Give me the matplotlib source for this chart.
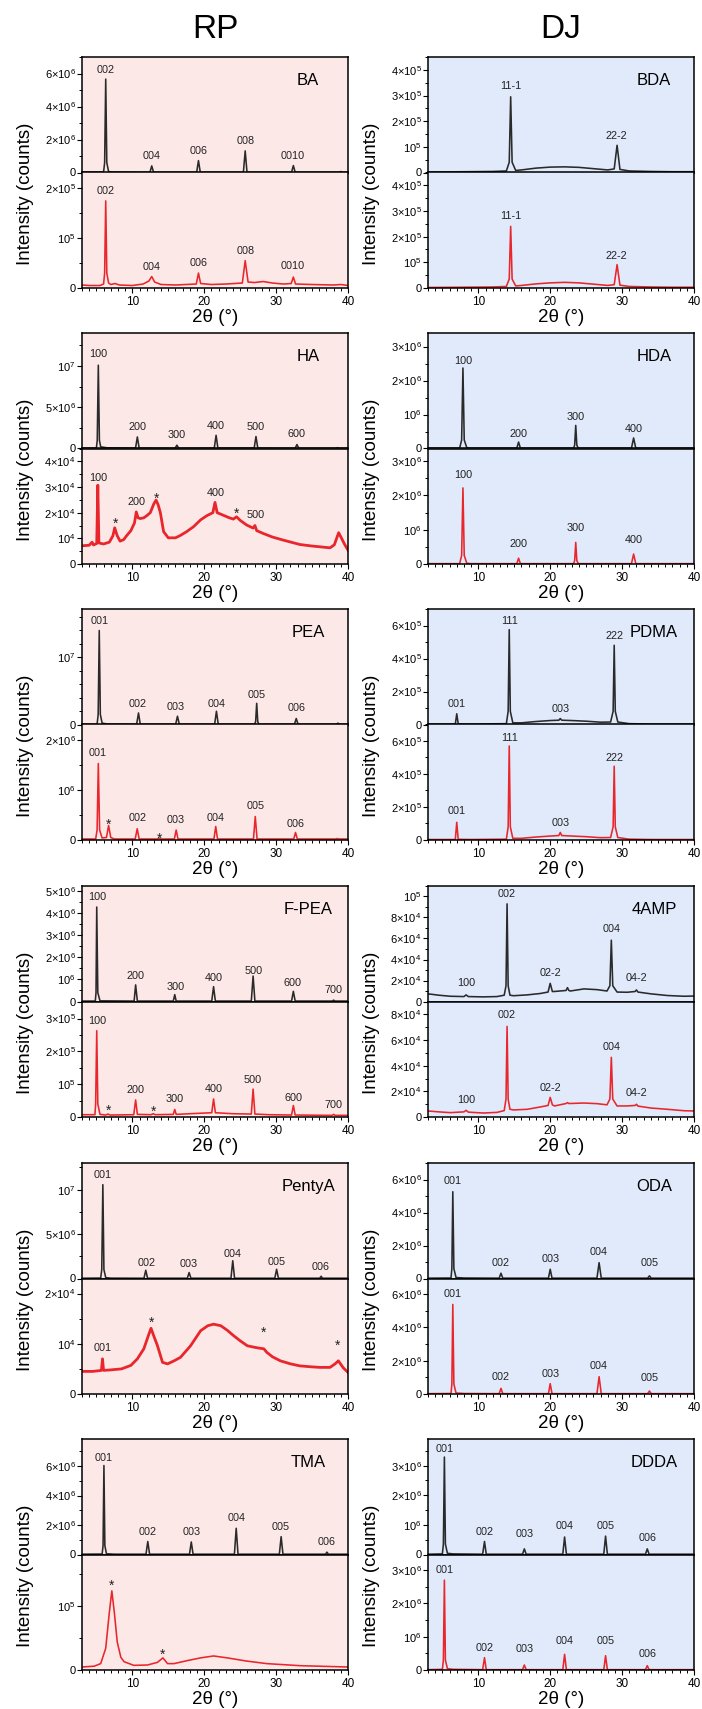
import matplotlib
matplotlib.use("Agg")
import matplotlib.pyplot as plt
from matplotlib.ticker import MultipleLocator

plt.rcParams['font.family'] = ['Liberation Sans', 'DejaVu Sans']
plt.rcParams['mathtext.default'] = 'regular'

# ---------------- y tick sets (value in the axis unit, label) ----------------
T_E6_0246 = ([0, 2, 4, 6], ['0', '2×$10^{6}$', '4×$10^{6}$', '6×$10^{6}$'])
T_E6_0123 = ([0, 1, 2, 3], ['0', '$10^{6}$', '2×$10^{6}$', '3×$10^{6}$'])
T_E6_012 = ([0, 1, 2], ['0', '$10^{6}$', '2×$10^{6}$'])
T_E6_0_5_10 = ([0, 5, 10], ['0', '5×$10^{6}$', '$10^{7}$'])
T_E6_0_10 = ([0, 10], ['0', '$10^{7}$'])
T_E6_012345 = ([0, 1, 2, 3, 4, 5], ['0', '$10^{6}$', '2×$10^{6}$', '3×$10^{6}$', '4×$10^{6}$', '5×$10^{6}$'])
T_E5_01 = ([0, 1], ['0', '$10^{5}$'])
T_E5_012 = ([0, 1, 2], ['0', '$10^{5}$', '2×$10^{5}$'])
T_E5_0123 = ([0, 1, 2, 3], ['0', '$10^{5}$', '2×$10^{5}$', '3×$10^{5}$'])
T_E5_01234 = ([0, 1, 2, 3, 4], ['0', '$10^{5}$', '2×$10^{5}$', '3×$10^{5}$', '4×$10^{5}$'])
T_E5_0246 = ([0, 2, 4, 6], ['0', '2×$10^{5}$', '4×$10^{5}$', '6×$10^{5}$'])
T_E4_012 = ([0, 1, 2], ['0', '$10^{4}$', '2×$10^{4}$'])
T_E4_01234 = ([0, 1, 2, 3, 4], ['0', '$10^{4}$', '2×$10^{4}$', '3×$10^{4}$', '4×$10^{4}$'])
T_E4_0_10 = ([0, 2, 4, 6, 8, 10], ['0', '2×$10^{4}$', '4×$10^{4}$', '6×$10^{4}$', '8×$10^{4}$', '$10^{5}$'])
T_E4_02468 = ([0, 2, 4, 6, 8], ['0', '2×$10^{4}$', '4×$10^{4}$', '6×$10^{4}$', '8×$10^{4}$'])

# ---------------- traced patterns: (2theta, intensity in axis unit) ----------------
# BA  (top 1e6, bottom 1e5)
BA_TOP = [(3, 0.03), (6.0, 0.03), (6.15, 0.6), (6.3, 5.66), (6.45, 0.6), (6.7, 0.05), (7.5, 0.03),
          (12.45, 0.02), (12.7, 0.4), (12.95, 0.02), (18.95, 0.02), (19.2, 0.72), (19.45, 0.02),
          (25.45, 0.02), (25.7, 1.31), (25.95, 0.02), (32.15, 0.02), (32.4, 0.42), (32.65, 0.02),
          (38.8, 0.02), (39.0, 0.06), (39.2, 0.02), (40, 0.02)]
BA_TOP_PK = [('002', 6.3, 6.24), ('004', 12.7, 0.99), ('006', 19.2, 1.31), ('008', 25.7, 1.9), ('0010', 32.3, 0.99)]
BA_BOT = [(3, 0.06), (4, 0.05), (5.5, 0.05), (6.0, 0.08), (6.15, 0.3), (6.3, 1.75), (6.45, 0.3), (6.7, 0.1),
          (7.0, 0.07), (7.6, 0.09), (8.2, 0.06), (10, 0.05), (11.5, 0.08), (12.3, 0.14), (12.7, 0.23),
          (13.1, 0.12), (14, 0.07), (16, 0.06), (18.9, 0.08), (19.2, 0.3), (19.5, 0.09), (21, 0.07),
          (23, 0.08), (25.3, 0.1), (25.7, 0.55), (26.1, 0.12), (27, 0.11), (28.2, 0.13), (29.5, 0.1),
          (31, 0.08), (32.1, 0.09), (32.4, 0.22), (32.7, 0.08), (35, 0.07), (38, 0.06), (39, 0.07), (40, 0.05)]
BA_BOT_PK = [('002', 6.3, 1.95), ('004', 12.7, 0.43), ('006', 19.2, 0.5), ('008', 25.7, 0.75), ('0010', 32.3, 0.45)]

# BDA (1e5 / 1e5)
BDA_TOP = [(3, 0.02), (8, 0.03), (12, 0.04), (13.9, 0.06), (14.3, 0.4), (14.5, 2.95), (14.7, 0.4), (15.2, 0.08),
           (16, 0.1), (18, 0.17), (20, 0.21), (22, 0.22), (24, 0.2), (26, 0.15), (28, 0.1), (28.9, 0.14),
           (29.3, 1.06), (29.7, 0.12), (31, 0.06), (34, 0.04), (37, 0.03), (40, 0.03)]
BDA_TOP_PK = [('11-1', 14.5, 3.36), ('22-2', 29.2, 1.42)]
BDA_BOT = [(3, 0.02), (8, 0.03), (12, 0.04), (13.9, 0.06), (14.3, 0.35), (14.5, 2.4), (14.7, 0.35), (15.2, 0.08),
           (16, 0.1), (18, 0.16), (20, 0.2), (22, 0.22), (24, 0.2), (26, 0.15), (28, 0.1), (28.9, 0.13),
           (29.3, 0.91), (29.7, 0.11), (31, 0.06), (34, 0.04), (37, 0.03), (40, 0.03)]
BDA_BOT_PK = [('11-1', 14.5, 2.82), ('22-2', 29.2, 1.26)]

# HA (1e6 / 1e4)
HA_TOP = [(3, 0.05), (5.0, 0.05), (5.12, 1.0), (5.27, 10.1), (5.42, 1.0), (5.6, 0.2), (6.5, 0.08),
          (10.45, 0.05), (10.7, 1.4), (10.95, 0.05), (15.95, 0.03), (16.2, 0.4), (16.45, 0.03),
          (21.4, 0.05), (21.65, 1.6), (21.9, 0.05), (26.95, 0.05), (27.2, 1.45), (27.45, 0.05),
          (32.65, 0.03), (32.9, 0.48), (33.15, 0.03), (38.35, 0.03), (38.55, 0.1), (38.75, 0.03), (40, 0.03)]
HA_TOP_PK = [('100', 5.3, 11.4), ('200', 10.7, 2.62), ('300', 16.2, 1.61), ('400', 21.65, 2.74),
             ('500', 27.2, 2.62), ('600', 32.9, 1.73)]
HA_BOT = [(3, 0.71), (4.0, 0.73), (4.4, 0.85), (4.6, 0.74), (5.05, 0.8), (5.2, 3.07), (5.35, 0.82), (6.0, 0.78),
          (6.8, 0.85), (7.3, 1.1), (7.55, 1.41), (7.9, 1.1), (8.3, 0.89), (8.8, 0.95), (9.2, 1.1), (9.8, 1.3),
          (10.3, 1.6), (10.55, 2.03), (10.8, 1.8), (11.1, 1.77), (11.6, 1.8), (12.0, 1.88), (12.5, 2.0),
          (13.0, 2.35), (13.3, 2.49), (13.6, 2.3), (13.9, 2.0), (14.35, 1.26), (15.0, 1.02), (16.0, 1.02),
          (16.6, 1.1), (17.5, 1.25), (18.5, 1.45), (19.5, 1.72), (20.35, 1.88), (21.2, 2.0), (21.5, 2.4),
          (21.8, 2.0), (22.65, 1.9), (23.5, 1.8), (24.05, 1.75), (24.5, 1.84), (25.0, 1.7), (25.9, 1.52),
          (26.8, 1.4), (27.05, 1.5), (27.3, 1.3), (28.2, 1.19), (29.5, 1.05), (31, 0.93), (33.3, 0.76),
          (35, 0.7), (36.1, 0.67), (37.5, 0.63), (38.1, 0.75), (38.7, 1.22), (39.2, 0.95), (39.5, 0.78), (40, 0.54)]
HA_BOT_PK = [('100', 5.3, 3.37), ('*', 7.6, 1.71), ('200', 10.55, 2.42), ('*', 13.3, 2.71),
             ('400', 21.6, 2.78), ('*', 24.5, 2.12), ('500', 27.2, 1.89)]

# HDA (1e6 / 1e6)
HDA_TOP = [(3, 0.01), (7.4, 0.01), (7.68, 0.25), (7.86, 2.37), (8.04, 0.25), (8.4, 0.02), (9, 0.01),
           (15.35, 0.01), (15.6, 0.19), (15.85, 0.01), (23.25, 0.01), (23.4, 0.1), (23.55, 0.68), (23.7, 0.1),
           (23.9, 0.01), (31.3, 0.01), (31.6, 0.31), (31.9, 0.01), (40, 0.01)]
HDA_TOP_PK = [('100', 7.86, 2.57), ('200', 15.6, 0.44), ('300', 23.55, 0.92), ('400', 31.6, 0.57)]
HDA_BOT = [(3, 0.01), (7.4, 0.01), (7.68, 0.25), (7.86, 2.22), (8.04, 0.25), (8.4, 0.02), (9, 0.01),
           (15.35, 0.01), (15.6, 0.17), (15.85, 0.01), (23.25, 0.01), (23.4, 0.1), (23.55, 0.63), (23.7, 0.1),
           (23.9, 0.01), (31.3, 0.01), (31.6, 0.29), (31.9, 0.01), (40, 0.01)]
HDA_BOT_PK = [('100', 7.86, 2.59), ('200', 15.6, 0.58), ('300', 23.55, 1.06), ('400', 31.6, 0.71)]

# PEA (1e6 / 1e6)
PEA_TOP = [(3, 0.05), (5.1, 0.05), (5.25, 1.5), (5.4, 14.0), (5.55, 1.5), (5.8, 0.2), (6.5, 0.08),
           (10.6, 0.05), (10.86, 1.72), (11.1, 0.05), (16.03, 0.05), (16.28, 1.23), (16.53, 0.05),
           (21.45, 0.05), (21.7, 1.97), (21.95, 0.05), (27.0, 0.05), (27.15, 0.4), (27.3, 3.15), (27.45, 0.4),
           (27.6, 0.05), (32.55, 0.05), (32.8, 0.89), (33.05, 0.05), (38.4, 0.05), (38.6, 0.2), (38.8, 0.05), (40, 0.05)]
PEA_TOP_PK = [('001', 5.4, 15.4), ('002', 10.8, 3.0), ('003', 16.1, 2.6), ('004', 21.7, 3.0),
              ('005', 27.3, 4.33), ('006', 32.8, 2.51)]
PEA_BOT = [(3, 0.02), (4.9, 0.02), (5.1, 0.2), (5.27, 1.53), (5.45, 0.2), (5.8, 0.04), (6.4, 0.05), (6.7, 0.29),
           (7.0, 0.05), (7.5, 0.02), (10.4, 0.02), (10.68, 0.225), (10.95, 0.02), (13.5, 0.02), (13.7, 0.04),
           (13.9, 0.02), (15.85, 0.02), (16.1, 0.2), (16.35, 0.02), (21.35, 0.02), (21.6, 0.27), (21.85, 0.02),
           (26.85, 0.02), (27.1, 0.47), (27.35, 0.02), (32.45, 0.02), (32.7, 0.15), (32.95, 0.02),
           (38.3, 0.02), (38.5, 0.03), (38.7, 0.02), (40, 0.02)]
PEA_BOT_PK = [('001', 5.2, 1.735), ('*', 6.75, 0.39), ('002', 10.8, 0.44), ('*', 13.75, 0.11),
              ('003', 16.1, 0.4), ('004', 21.6, 0.44), ('005', 27.2, 0.67), ('006', 32.7, 0.32)]

# PDMA (1e5 / 1e5)
PDMA_TOP = [(3, 0.03), (6.8, 0.03), (7.0, 0.65), (7.2, 0.04), (9, 0.03), (13.9, 0.05), (14.15, 0.8), (14.3, 5.75),
            (14.45, 0.8), (14.8, 0.1), (16, 0.1), (18, 0.18), (20, 0.24), (21.2, 0.26), (21.4, 0.36), (21.6, 0.26),
            (23, 0.24), (25, 0.2), (27, 0.14), (28.4, 0.15), (28.75, 0.8), (28.9, 4.8), (29.05, 0.8), (29.4, 0.15),
            (31, 0.05), (34, 0.03), (37, 0.03), (40, 0.03)]
PDMA_TOP_PK = [('001', 7.0, 1.27), ('111', 14.3, 6.26), ('003', 21.4, 0.91), ('222', 28.9, 5.35)]
PDMA_BOT = [(3, 0.03), (6.8, 0.03), (7.0, 1.07), (7.2, 0.04), (9, 0.03), (13.9, 0.05), (14.15, 0.8), (14.3, 5.7),
            (14.45, 0.8), (14.8, 0.1), (16, 0.1), (18, 0.18), (20, 0.24), (21.2, 0.27), (21.4, 0.46), (21.6, 0.27),
            (23, 0.24), (25, 0.2), (27, 0.14), (28.4, 0.15), (28.75, 0.8), (28.9, 4.47), (29.05, 0.8), (29.4, 0.15),
            (31, 0.05), (34, 0.03), (37, 0.03), (40, 0.03)]
PDMA_BOT_PK = [('001', 7.0, 1.75), ('111', 14.3, 6.18), ('003', 21.4, 1.0), ('222', 28.9, 4.99)]

# F-PEA (1e6 / 1e5)
FPEA_TOP = [(3, 0.02), (4.85, 0.02), (4.95, 0.4), (5.05, 4.27), (5.2, 0.4), (5.5, 0.03), (10.25, 0.02),
            (10.46, 0.75), (10.7, 0.02), (15.7, 0.02), (15.9, 0.31), (16.1, 0.02), (21.05, 0.02), (21.3, 0.67),
            (21.55, 0.02), (26.55, 0.02), (26.8, 1.15), (27.05, 0.02), (32.15, 0.02), (32.4, 0.46), (32.65, 0.02),
            (37.8, 0.02), (38.0, 0.06), (38.2, 0.02), (40, 0.02)]
FPEA_TOP_PK = [('100', 5.15, 4.72), ('200', 10.46, 1.16), ('300', 16.0, 0.67), ('400', 21.3, 1.04),
               ('500', 26.9, 1.37), ('600', 32.3, 0.82), ('700', 38.0, 0.52)]
FPEA_BOT = [(3, 0.07), (4.8, 0.07), (4.9, 0.4), (5.05, 2.63), (5.2, 0.4), (5.5, 0.08), (6.3, 0.06), (6.6, 0.09),
            (6.9, 0.06), (10.2, 0.07), (10.46, 0.52), (10.7, 0.08), (12.6, 0.07), (12.9, 0.1), (13.2, 0.07),
            (15.7, 0.08), (15.9, 0.23), (16.1, 0.08), (18, 0.1), (20, 0.12), (21.05, 0.13), (21.3, 0.55),
            (21.55, 0.13), (24, 0.1), (26.55, 0.09), (26.8, 0.85), (27.05, 0.09), (29, 0.07), (32.15, 0.06),
            (32.4, 0.35), (32.65, 0.06), (37.8, 0.05), (38.0, 0.08), (38.2, 0.05), (40, 0.05)]
FPEA_BOT_PK = [('100', 5.05, 2.94), ('*', 6.65, 0.32), ('200', 10.46, 0.81), ('*', 12.9, 0.29),
               ('300', 15.9, 0.54), ('400', 21.3, 0.84), ('500', 26.8, 1.13), ('600', 32.4, 0.59), ('700', 38.0, 0.36)]

# 4AMP (1e4 / 1e4)
AMP_TOP = [(3, 0.73), (4.5, 0.6), (6.1, 0.5), (8.0, 0.47), (8.3, 0.63), (8.6, 0.47), (10.7, 0.44), (12.6, 0.47),
           (13.6, 0.6), (13.85, 1.5), (14.0, 9.3), (14.15, 1.5), (14.4, 0.6), (14.9, 0.55), (16.8, 0.63),
           (18.6, 0.76), (19.7, 0.9), (20.0, 1.73), (20.3, 0.95), (20.5, 0.95), (22.2, 1.05), (22.4, 1.32),
           (22.6, 1.05), (22.8, 1.0), (24.7, 1.2), (26.5, 1.13), (27.9, 1.0), (28.3, 1.5), (28.5, 5.84),
           (28.7, 1.5), (29.3, 0.9), (30.7, 0.88), (31.8, 0.95), (32.0, 1.1), (32.2, 0.9), (34, 0.73),
           (36.3, 0.57), (38.6, 0.5), (40, 0.52)]
AMP_TOP_PK = [('100', 8.3, 1.73), ('002', 14.0, 10.25), ('02-2', 20.0, 2.68), ('004', 28.5, 6.88), ('04-2', 32.0, 2.27)]
AMP_BOT = [(3, 0.47), (4.5, 0.4), (6.1, 0.34), (8.0, 0.4), (8.3, 0.52), (8.6, 0.38), (10.7, 0.31), (12.6, 0.36),
           (13.6, 0.5), (13.85, 1.4), (14.0, 7.06), (14.15, 1.4), (14.4, 0.6), (14.9, 0.55), (16.8, 0.6),
           (18.6, 0.78), (19.7, 0.9), (20.0, 1.53), (20.3, 0.95), (20.6, 0.86), (22.2, 1.05), (22.4, 1.12),
           (22.6, 1.05), (24.7, 1.09), (26.5, 1.04), (27.9, 0.95), (28.3, 1.4), (28.5, 4.65), (28.7, 1.4),
           (29.3, 0.86), (30.7, 0.86), (31.8, 0.9), (32.0, 0.99), (32.2, 0.85), (34, 0.7), (36.3, 0.6),
           (38.6, 0.49), (40, 0.47)]
AMP_BOT_PK = [('100', 8.3, 1.35), ('002', 14.0, 7.92), ('02-2', 20.0, 2.26), ('004', 28.5, 5.45), ('04-2', 32.0, 1.87)]

# PentyA (1e6 / 1e4)
PENTYA_TOP = [(3, 0.03), (5.6, 0.05), (5.75, 1.0), (5.9, 10.56), (6.05, 1.0), (6.3, 0.1), (7, 0.04),
              (11.62, 0.03), (11.87, 0.93), (12.12, 0.03), (17.65, 0.03), (17.9, 0.67), (18.15, 0.03),
              (23.72, 0.03), (23.97, 2.0), (24.22, 0.03), (29.82, 0.03), (30.07, 1.04), (30.32, 0.03),
              (36.06, 0.03), (36.26, 0.25), (36.46, 0.03), (40, 0.03)]
PENTYA_TOP_PK = [('001', 5.9, 11.68), ('002', 11.95, 1.79), ('003', 17.9, 1.68), ('004', 23.97, 2.8),
                 ('005', 30.1, 1.9), ('006', 36.26, 1.34)]
PENTYA_BOT = [(3, 0.45), (4.5, 0.45), (5.7, 0.47), (5.85, 0.7), (6.0, 0.47), (7, 0.48), (8.5, 0.5), (9.8, 0.57),
              (10.7, 0.7), (11.6, 0.9), (12.2, 1.15), (12.6, 1.31), (13.0, 1.15), (13.5, 0.96), (14.2, 0.63),
              (14.9, 0.6), (15.8, 0.66), (16.7, 0.73), (18.1, 0.96), (19.5, 1.26), (20.5, 1.36), (21.3, 1.39),
              (22.3, 1.36), (23.2, 1.27), (24.1, 1.16), (25, 1.06), (26, 0.96), (27, 0.93), (27.8, 0.91),
              (28.3, 0.9), (28.7, 0.83), (29.5, 0.74), (30.6, 0.66), (32, 0.6), (33.3, 0.56), (35, 0.54),
              (36.1, 0.53), (37.5, 0.53), (38.2, 0.6), (38.66, 0.66), (39.35, 0.52), (40, 0.43)]
PENTYA_BOT_PK = [('001', 5.9, 0.914), ('*', 12.6, 1.5), ('*', 28.2, 1.31), ('*', 38.6, 1.05)]

# ODA (1e6 / 1e6)
ODA_TOP = [(3, 0.02), (6.2, 0.03), (6.32, 0.6), (6.45, 5.26), (6.6, 0.6), (6.9, 0.06), (8, 0.03),
           (12.9, 0.02), (13.15, 0.32), (13.4, 0.02), (19.75, 0.02), (20.0, 0.56), (20.25, 0.02),
           (26.5, 0.02), (26.8, 0.96), (27.1, 0.02), (33.55, 0.02), (33.8, 0.16), (34.05, 0.02), (40, 0.02)]
ODA_TOP_PK = [('001', 6.45, 5.9), ('002', 13.15, 0.96), ('003', 20.0, 1.16), ('004', 26.8, 1.6), ('005', 33.8, 0.92)]
ODA_BOT = [(3, 0.02), (6.2, 0.03), (6.32, 0.6), (6.45, 5.38), (6.6, 0.6), (6.9, 0.06), (8, 0.03),
           (12.9, 0.02), (13.15, 0.34), (13.4, 0.02), (19.75, 0.02), (20.0, 0.62), (20.25, 0.02),
           (26.5, 0.02), (26.8, 1.04), (27.1, 0.02), (33.55, 0.02), (33.8, 0.18), (34.05, 0.02), (40, 0.02)]
ODA_BOT_PK = [('001', 6.45, 6.0), ('002', 13.15, 1.02), ('003', 20.0, 1.22), ('004', 26.8, 1.68), ('005', 33.8, 0.98)]

# TMA (1e6 / 1e5)
TMA_TOP = [(3, 0.02), (5.8, 0.03), (5.93, 0.6), (6.05, 6.04), (6.18, 0.6), (6.4, 0.05), (7.5, 0.02),
           (11.9, 0.02), (12.15, 0.88), (12.4, 0.02), (17.95, 0.02), (18.2, 0.85), (18.45, 0.02),
           (24.2, 0.02), (24.45, 1.78), (24.7, 0.02), (30.45, 0.02), (30.7, 1.21), (30.95, 0.02),
           (36.87, 0.02), (37.07, 0.16), (37.27, 0.02), (40, 0.02)]
TMA_TOP_PK = [('001', 6.05, 6.56), ('002', 12.15, 1.5), ('003', 18.2, 1.5), ('004', 24.45, 2.45),
              ('005', 30.7, 1.84), ('006', 37.07, 0.88)]
TMA_BOT = [(3, 0.047), (4.7, 0.06), (5.6, 0.10), (6.3, 0.34), (6.8, 0.9), (7.15, 1.24), (7.5, 0.9), (7.9, 0.44),
           (8.4, 0.2), (8.85, 0.13), (10.2, 0.073), (12.1, 0.078), (13.5, 0.12), (14.25, 0.19), (14.9, 0.1),
           (15.8, 0.1), (17.6, 0.146), (19.5, 0.19), (21.3, 0.22), (23.2, 0.19), (25.9, 0.14), (28.7, 0.10),
           (33.3, 0.068), (40, 0.047)]
TMA_BOT_PK = [('*', 7.15, 1.38), ('*', 14.25, 0.3)]

# DDDA (1e6 / 1e6)
DDDA_TOP = [(3, 0.01), (5.0, 0.02), (5.14, 0.35), (5.28, 3.29), (5.42, 0.35), (5.7, 0.04), (6.5, 0.02),
            (10.6, 0.01), (10.86, 0.44), (11.1, 0.01), (16.15, 0.01), (16.4, 0.19), (16.65, 0.01),
            (21.75, 0.01), (22.0, 0.59), (22.25, 0.01), (27.45, 0.01), (27.7, 0.62), (27.95, 0.01),
            (33.25, 0.01), (33.5, 0.19), (33.75, 0.01), (40, 0.01)]
DDDA_TOP_PK = [('001', 5.28, 3.55), ('002', 10.86, 0.77), ('003', 16.4, 0.69), ('004', 22.0, 0.97),
               ('005', 27.7, 0.97), ('006', 33.5, 0.56)]
DDDA_BOT = [(3, 0.01), (5.0, 0.02), (5.14, 0.3), (5.28, 2.7), (5.42, 0.3), (5.7, 0.04), (6.5, 0.02),
            (10.6, 0.01), (10.86, 0.37), (11.1, 0.01), (16.15, 0.01), (16.4, 0.15), (16.65, 0.01),
            (21.75, 0.01), (22.0, 0.47), (22.25, 0.01), (27.45, 0.01), (27.7, 0.43), (27.95, 0.01),
            (33.25, 0.01), (33.5, 0.13), (33.75, 0.01), (40, 0.01)]
DDDA_BOT_PK = [('001', 5.28, 2.99), ('002', 10.86, 0.67), ('003', 16.4, 0.62), ('004', 22.0, 0.88),
               ('005', 27.7, 0.86), ('006', 33.5, 0.47)]

# panel table: name, row, col, (curve, labels, ticks, ymax, minor step) for top and bottom
PANELS = [
    ('BA', 0, 0, (BA_TOP, BA_TOP_PK, T_E6_0246, 7.0, 1), (BA_BOT, BA_BOT_PK, T_E5_012, 2.32, 0.5)),
    ('BDA', 0, 1, (BDA_TOP, BDA_TOP_PK, T_E5_01234, 4.5, 0.5), (BDA_BOT, BDA_BOT_PK, T_E5_01234, 4.5, 0.5)),
    ('HA', 1, 0, (HA_TOP, HA_TOP_PK, T_E6_0_5_10, 14.0, 2.5), (HA_BOT, HA_BOT_PK, T_E4_01234, 4.5, 0.5)),
    ('HDA', 1, 1, (HDA_TOP, HDA_TOP_PK, T_E6_0123, 3.4, 0.5), (HDA_BOT, HDA_BOT_PK, T_E6_0123, 3.37, 0.5)),
    ('PEA', 2, 0, (PEA_TOP, PEA_TOP_PK, T_E6_0_10, 17.2, 2), (PEA_BOT, PEA_BOT_PK, T_E6_012, 2.31, 0.5)),
    ('PDMA', 2, 1, (PDMA_TOP, PDMA_TOP_PK, T_E5_0246, 7.0, 1), (PDMA_BOT, PDMA_BOT_PK, T_E5_0246, 7.0, 1)),
    ('F-PEA', 3, 0, (FPEA_TOP, FPEA_TOP_PK, T_E6_012345, 5.22, 0.5), (FPEA_BOT, FPEA_BOT_PK, T_E5_0123, 3.52, 0.5)),
    ('4AMP', 3, 1, (AMP_TOP, AMP_TOP_PK, T_E4_0_10, 11.0, 1), (AMP_BOT, AMP_BOT_PK, T_E4_02468, 9.0, 1)),
    ('PentyA', 4, 0, (PENTYA_TOP, PENTYA_TOP_PK, T_E6_0_5_10, 13.0, 2.5), (PENTYA_BOT, PENTYA_BOT_PK, T_E4_012, 2.3, 0.5)),
    ('ODA', 4, 1, (ODA_TOP, ODA_TOP_PK, T_E6_0246, 7.0, 1), (ODA_BOT, ODA_BOT_PK, T_E6_0246, 6.94, 1)),
    ('TMA', 5, 0, (TMA_TOP, TMA_TOP_PK, T_E6_0246, 7.84, 1), (TMA_BOT, TMA_BOT_PK, T_E5_01, 1.81, 0.5)),
    ('DDDA', 5, 1, (DDDA_TOP, DDDA_TOP_PK, T_E6_0123, 3.9, 0.5), (DDDA_BOT, DDDA_BOT_PK, T_E6_0123, 3.47, 0.5)),
]
NOISY = ['HA', 'PentyA']

# layout (pixels)
W, H = 702, 1709
ROW_TOP = [57, 333, 609, 886, 1163, 1439]
COL_LEFT = [82, 428]
AX_W = 266
HALF = 115.5
BG = ['#fde8e8', '#e1eafb']
YLAB_X = [25, 371]

fig = plt.figure(figsize=(W / 100, H / 100), dpi=100)

fig.text(215 / W, 1 - 30 / H, 'RP', fontsize=24, ha='center', va='center')
fig.text(561 / W, 1 - 30 / H, 'DJ', fontsize=24, ha='center', va='center')

for name, row, col, top, bot in PANELS:
    left, y0 = COL_LEFT[col], ROW_TOP[row]
    ax_t = fig.add_axes([left / W, 1 - (y0 + HALF) / H, AX_W / W, HALF / H])
    ax_b = fig.add_axes([left / W, 1 - (y0 + 2 * HALF) / H, AX_W / W, HALF / H])
    for ax, spec, color in [(ax_t, top, '#2a2a2a'), (ax_b, bot, '#e8262b')]:
        curve, peaks, ticks, ymax, minor = spec
        xs = [p[0] for p in curve]
        ys = [p[1] for p in curve]
        lw = 2.0 if (ax is ax_b and name in NOISY) else 1.15
        ax.plot(xs, ys, color=color, lw=lw, solid_joinstyle='round')
        ax.set_xlim(3, 40)
        ax.set_ylim(0, ymax)
        ax.set_facecolor(BG[col])
        ax.set_yticks(ticks[0])
        ax.set_yticklabels(ticks[1])
        ax.yaxis.set_minor_locator(MultipleLocator(minor))
        ax.xaxis.set_major_locator(MultipleLocator(10))
        ax.xaxis.set_minor_locator(MultipleLocator(1))
        ax.tick_params(axis='y', which='major', direction='out', length=3.5, width=0.8, labelsize=8, pad=1)
        ax.tick_params(axis='y', which='minor', direction='out', length=2, width=0.7)
        ax.tick_params(axis='x', which='major', direction='out', length=3.5, width=0.8, labelsize=8.5, pad=2)
        ax.tick_params(axis='x', which='minor', direction='out', length=2, width=0.7)
        for s in ax.spines.values():
            s.set_linewidth(1.1)
        for txt, lx, ly in peaks:
            if txt == '*':
                ax.annotate('*', (lx, ly), xytext=(0, -3), textcoords='offset points',
                            ha='center', va='center', fontsize=10, color='#222222')
            else:
                ax.text(lx, ly, txt, ha='center', va='center', fontsize=7.8, color='#222222')
    ax_t.tick_params(axis='x', which='both', bottom=False, labelbottom=False)
    ax_t.text(0.85, 0.80, name, transform=ax_t.transAxes, ha='center', va='center', fontsize=12)
    ax_b.set_xlabel('2θ (°)', fontsize=13.5, labelpad=1)
    fig.text(YLAB_X[col] / W, 1 - (y0 + HALF + 21) / H, 'Intensity (counts)', rotation=90,
             ha='center', va='center', fontsize=13.5)

fig.savefig('out.png', dpi=100)
